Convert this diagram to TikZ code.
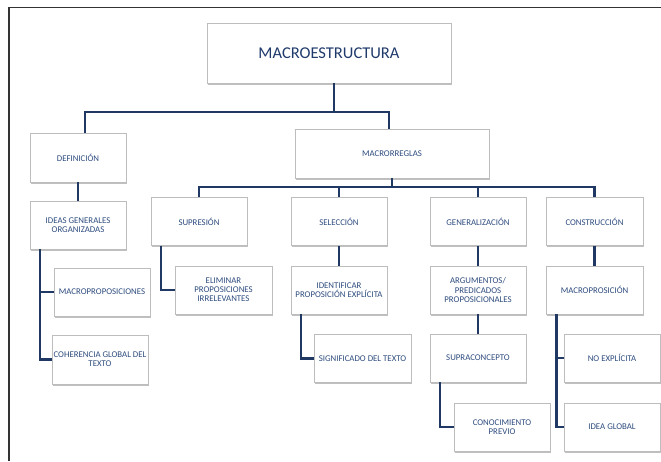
\documentclass[tikz,border=0pt]{standalone}
\usepackage{fontspec}
\setmainfont{Carlito}
\usetikzlibrary{shadows}
\definecolor{txtblue}{HTML}{2E4C7E}
\definecolor{ttlblue}{HTML}{1F3A6B}
\definecolor{linkblue}{HTML}{1F3864}
\definecolor{boxgray}{HTML}{BDBDBD}
\begin{document}
\begin{tikzpicture}[x=1pt,y=-1pt,
  box/.style={draw=boxgray, line width=0.9pt, fill=white, align=center,
    text=txtblue, inner sep=0.5pt,
    font=\fontsize{8.8}{9.2}\selectfont,
    drop shadow={shadow xshift=1.3pt, shadow yshift=-1.6pt, fill=black!45, opacity=0.55}},
  sbox/.style={box, minimum width=96pt, minimum height=48pt},
  link/.style={draw=linkblue, line width=2.4pt},
  frame/.style={draw=black!80, line width=1.6pt}]
\useasboundingbox (0,0) rectangle (661,461);
\draw[frame] (9,461) -- (9,7.5) -- (661,7.5);

\node[box, minimum width=244pt, minimum height=60pt, text=ttlblue,
      font=\fontsize{16.5}{18}\selectfont] (macro) at (329,53) {MACROESTRUCTURA};
\node[sbox, minimum height=49pt] (def) at (78,157.5) {DEFINICIÓN};
\node[sbox] (ideas) at (78,225) {IDEAS GENERALES\\ORGANIZADAS};
\node[sbox] (macrop) at (102,292) {MACROPROPOSICIONES};
\node[sbox, minimum height=49pt] (coher) at (100,359.5) {COHERENCIA GLOBAL DEL\\TEXTO};

\node[box, minimum width=194pt, minimum height=49pt] (reglas) at (392,153.5) {MACRORREGLAS};
\node[sbox] (sup) at (199,221.5) {SUPRESIÓN};
\node[sbox] (sel) at (339,221.5) {SELECCIÓN};
\node[sbox] (gen) at (478,221.5) {GENERALIZACIÓN};
\node[sbox, minimum width=97pt] (cons) at (594.5,221.5) {CONSTRUCCIÓN};

\node[sbox, minimum width=97pt] (elim) at (223.5,290) {ELIMINAR\\PROPOSICIONES\\IRRELEVANTES};
\node[sbox] (ident) at (339,290) {IDENTIFICAR\\PROPOSICIÓN EXPLÍCITA};
\node[sbox, minimum width=97pt] (signif) at (362.5,358.5) {SIGNIFICADO DEL TEXTO};
\node[sbox] (arg) at (478,290) {ARGUMENTOS/\\PREDICADOS\\PROPOSICIONALES};
\node[sbox] (supra) at (478,358) {SUPRACONCEPTO};
\node[sbox] (conoc) at (502,427) {CONOCIMIENTO\\PREVIO};
\node[sbox, minimum width=97pt] (macrops) at (594.5,290) {MACROPROSICIÓN};
\node[sbox] (noexp) at (612,358) {NO EXPLÍCITA};
\node[sbox] (idea) at (612,427) {IDEA GLOBAL};

% top level
\coordinate (j1) at (334,112);
\draw[link] (macro.south -| j1) -- (j1);
\draw[link] ([xshift=7pt]def.north) |- (j1) -| ([xshift=-3pt]reglas.north);
\draw[link] (def) -- (ideas);
\draw[link] ([xshift=-38pt]ideas.south) |- (macrop.west);
\draw[link] ([xshift=-38pt]ideas.south) |- (coher.west);

% macrorreglas
\coordinate (j2) at (392,187);
\draw[link] (reglas.south) -- (j2);
\draw[link] (sup.north) |- (j2) -| (cons.north);
\draw[link] (sel.north) -- (sel.north |- j2);
\draw[link] (gen.north) -- (gen.north |- j2);

\draw[link] ([xshift=-38pt]sup.south) |- (elim.west);
\draw[link] (sel) -- (ident);
\draw[link] ([xshift=-38pt]ident.south) |- (signif.west);
\draw[link] (gen) -- (arg);
\draw[link] (arg) -- (supra);
\draw[link] ([xshift=-38pt]supra.south) |- (conoc.west);
\draw[link] (cons) -- (macrops);
\draw[link] ([xshift=-38pt]macrops.south) |- (noexp.west);
\draw[link] ([xshift=-38pt]macrops.south) |- (idea.west);
\end{tikzpicture}
\end{document}
